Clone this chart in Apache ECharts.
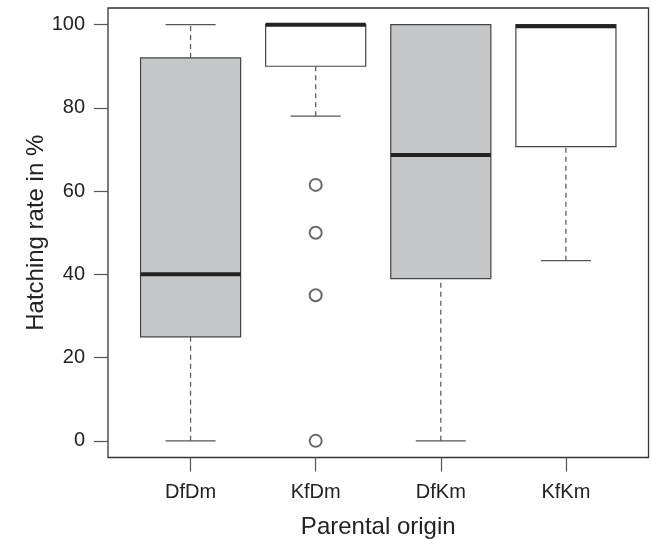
<!DOCTYPE html>
<html>
<head>
<meta charset="utf-8">
<script src="https://cdn.jsdelivr.net/npm/echarts@6/dist/echarts.min.js"></script>
<style>
html,body{margin:0;padding:0;background:#fff;}
#chart{width:651px;height:539px;}
</style>
</head>
<body>
<div id="chart"></div>
<script>
var categories = ['DfDm', 'KfDm', 'DfKm', 'KfKm'];
var lowerWhisker = [0, 78, 0, 43.3];
var q1 = [25, 90, 39, 70.7];
var median = [40, 100, 68.7, 99.6];
var q3 = [92, 100, 100, 100];
var upperWhisker = [100, 100, 100, 100];
var outlierGroup = [2, 2, 2, 2];
var outlierValues = [61.5, 50, 35, 0];
var yTicks = [0, 20, 40, 60, 80, 100];
var xPositions = [1, 2, 3, 4];

var boxFill = ['#c5c6c8', '#ffffff', '#c5c6c8', '#ffffff'];
var FONT = '"Liberation Sans", Arial, Helvetica, sans-serif';
var lineColor = '#555555';

var boxData = categories.map(function (c, i) {
  return [xPositions[i], lowerWhisker[i], q1[i], median[i], q3[i], upperWhisker[i]];
});
var outlierData = outlierValues.map(function (v, i) { return [outlierGroup[i], v]; });

var chart = echarts.init(document.getElementById('chart'), null, {renderer: 'canvas'});
chart.setOption({
  animation: false,
  backgroundColor: '#ffffff',
  grid: {
    left: 108, right: 2.5, top: 8, bottom: 81.5,
    containLabel: false, outerBoundsMode: 'none',
    show: true, borderColor: '#333333', borderWidth: 1.3, backgroundColor: 'transparent'
  },
  xAxis: {
    type: 'value', min: 0.34, max: 4.66,
    name: 'Parental origin', nameLocation: 'middle', nameGap: 58,
    nameMoveOverlap: false,
    nameTextStyle: {fontSize: 24, color: '#222', fontFamily: FONT},
    axisLine: {show: false, onZero: false},
    splitLine: {show: false},
    axisTick: {show: true, inside: false, length: 14, customValues: xPositions, lineStyle: {color: lineColor, width: 1.2}},
    axisLabel: {
      customValues: xPositions, margin: 25, fontSize: 20, color: '#222', fontFamily: FONT,
      formatter: function (v) { return categories[Math.round(v) - 1]; }
    }
  },
  yAxis: {
    type: 'value', min: -4, max: 104,
    name: 'Hatching rate in %', nameLocation: 'middle', nameGap: 60,
    nameMoveOverlap: false,
    nameTextStyle: {fontSize: 24, color: '#222', fontFamily: FONT},
    axisLine: {show: false, onZero: false},
    splitLine: {show: false},
    axisTick: {show: true, inside: false, length: 14, customValues: yTicks, lineStyle: {color: lineColor, width: 1.2}},
    axisLabel: {customValues: yTicks, margin: 23, fontSize: 20, color: '#222', fontFamily: FONT}
  },
  series: [
    {
      type: 'custom',
      data: boxData,
      encode: {x: 0, y: [1, 2, 3, 4, 5]},
      renderItem: function (params, api) {
        var x = api.value(0);
        var lo = api.coord([x, api.value(1)]);
        var b1 = api.coord([x, api.value(2)]);
        var md = api.coord([x, api.value(3)]);
        var b3 = api.coord([x, api.value(4)]);
        var hi = api.coord([x, api.value(5)]);
        var w = api.size([0.8, 0])[0];
        var cx = lo[0];
        var half = w / 2, capHalf = w / 4;
        var dash = {stroke: lineColor, lineWidth: 1.2, lineDash: [5, 4]};
        var solid = {stroke: lineColor, lineWidth: 1.2};
        return {
          type: 'group',
          children: [
            {type: 'line', shape: {x1: cx, y1: lo[1], x2: cx, y2: b1[1]}, style: dash},
            {type: 'line', shape: {x1: cx, y1: b3[1], x2: cx, y2: hi[1]}, style: dash},
            {type: 'line', shape: {x1: cx - capHalf, y1: lo[1], x2: cx + capHalf, y2: lo[1]}, style: solid},
            {type: 'line', shape: {x1: cx - capHalf, y1: hi[1], x2: cx + capHalf, y2: hi[1]}, style: solid},
            {type: 'rect', shape: {x: cx - half, y: b3[1], width: w, height: b1[1] - b3[1]},
              style: {fill: boxFill[params.dataIndex], stroke: '#444444', lineWidth: 1.2}},
            {type: 'line', shape: {x1: cx - half, y1: md[1], x2: cx + half, y2: md[1]},
              style: {stroke: '#222222', lineWidth: 4}}
          ]
        };
      }
    },
    {
      type: 'scatter',
      data: outlierData,
      symbol: 'emptyCircle',
      symbolSize: 12,
      itemStyle: {color: '#444444', borderColor: '#444444', borderWidth: 1}
    }
  ]
});
</script>
</body>
</html>
